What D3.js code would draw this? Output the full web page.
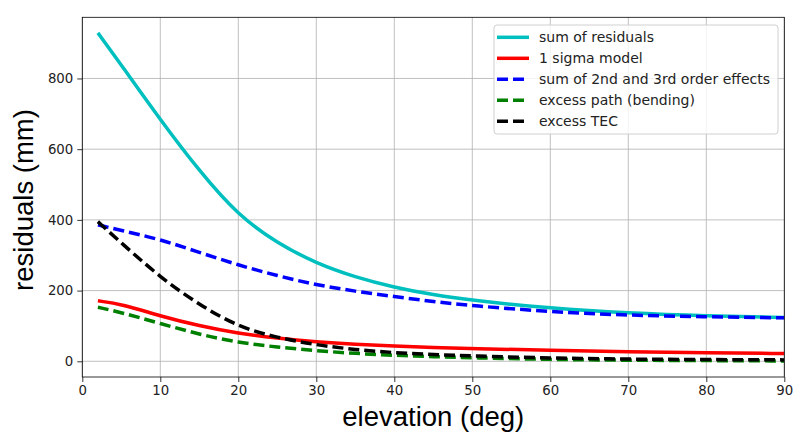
<!DOCTYPE html>
<html>
<head>
<meta charset="utf-8">
<script src="https://cdn.jsdelivr.net/npm/d3@7"></script>
<style>
  html, body { margin: 0; padding: 0; background: #fff; }
  svg { display: block; }
</style>
</head>
<body>
<svg id="chart" width="793" height="432"></svg>
<script>
// ---- data ----
const elevation = [2, 5, 10, 15, 20, 25, 30, 35, 40, 45, 50, 60, 70, 80, 90];
const sumResiduals = [929, 838, 683, 538, 412, 334, 277, 238, 209, 188, 172, 150, 136, 128, 124];
const sigmaModel   = [171, 162, 128, 100, 79, 65, 55, 48, 43, 39, 36, 31, 27, 24, 22];
const sum2nd3rd    = [386, 370, 345, 308, 272, 242, 216, 198, 183, 169, 157, 140, 130, 126, 123];
const excessPath   = [153, 138, 107, 76, 53, 40, 30, 22, 17, 13, 10, 5, 3, 2, 1];
const excessTEC    = [395, 335, 237, 160, 97, 67, 46, 33, 24, 19, 15, 9, 6, 5, 4];
const xTicks = [0, 10, 20, 30, 40, 50, 60, 70, 80, 90];
const yTicks = [0, 200, 400, 600, 800];
const seriesNames = ["sum of residuals", "1 sigma model", "sum of 2nd and 3rd order effects", "excess path (bending)", "excess TEC"];

const series = [
  { name: seriesNames[0], values: sumResiduals, color: "#00bfbf", dash: null },
  { name: seriesNames[1], values: sigmaModel,   color: "#ff0000", dash: null },
  { name: seriesNames[2], values: sum2nd3rd,    color: "#0000ff", dash: "11,5" },
  { name: seriesNames[3], values: excessPath,   color: "#008000", dash: "11,5" },
  { name: seriesNames[4], values: excessTEC,    color: "#000000", dash: "11,5" }
];

const svg = d3.select("#chart");
const L = 82.3, T = 17.3, R = 784.3, B = 377;
const x = d3.scaleLinear().domain([0, 90]).range([L, R]);
const y = d3.scaleLinear().domain([-44.4, 973]).range([B, T]);

// grid
const g = svg.append("g");
g.selectAll(".vg").data(xTicks).join("line")
  .attr("x1", d => x(d)).attr("x2", d => x(d)).attr("y1", T).attr("y2", B)
  .attr("stroke", "#b0b0b0").attr("stroke-width", 0.8);
g.selectAll(".hg").data(yTicks).join("line")
  .attr("x1", L).attr("x2", R).attr("y1", d => y(d)).attr("y2", d => y(d))
  .attr("stroke", "#b0b0b0").attr("stroke-width", 0.8);

// lines
svg.append("clipPath").attr("id", "clip").append("rect")
  .attr("x", L).attr("y", T).attr("width", R - L).attr("height", B - T);
const line = d3.line().x((d, i) => x(elevation[i])).y(d => y(d)).curve(d3.curveBasis);
svg.append("g").attr("clip-path", "url(#clip)").selectAll("path").data(series).join("path")
  .attr("d", s => line(s.values))
  .attr("fill", "none")
  .attr("stroke", s => s.color)
  .attr("stroke-width", 3.5)
  .attr("stroke-dasharray", s => s.dash)
  .attr("stroke-linecap", "butt");

// axes
const xAxis = d3.axisBottom(x).tickValues(xTicks).tickSize(5).tickPadding(4).tickSizeOuter(0);
const yAxis = d3.axisLeft(y).tickValues(yTicks).tickSize(5).tickPadding(4).tickSizeOuter(0);
const gx = svg.append("g").attr("transform", `translate(0,${B})`).call(xAxis);
const gy = svg.append("g").attr("transform", `translate(${L},0)`).call(yAxis);
[gx, gy].forEach(a => {
  a.select(".domain").remove();
  a.selectAll(".tick line").attr("stroke", "#000").attr("stroke-width", 0.8);
  a.selectAll(".tick text").attr("fill", "#222").style("font-family", "'DejaVu Sans'").style("font-size", "13.3px");
});

// frame
svg.append("rect").attr("x", L).attr("y", T).attr("width", R - L).attr("height", B - T)
  .attr("fill", "none").attr("stroke", "#000").attr("stroke-width", 0.8);

// axis labels
svg.append("text").attr("x", (L + R) / 2).attr("y", 425.5).attr("text-anchor", "middle")
  .style("font-family", "'Liberation Sans', Arial, sans-serif").style("font-size", "27.5px").attr("fill", "#000")
  .text("elevation (deg)");
svg.append("text").attr("transform", "translate(33,200) rotate(-90)").attr("text-anchor", "middle")
  .style("font-family", "'Liberation Sans', Arial, sans-serif").style("font-size", "27.5px").attr("fill", "#000")
  .text("residuals (mm)");

// legend
const lg = svg.append("g");
lg.append("rect").attr("x", 494).attr("y", 25).attr("width", 284).attr("height", 109)
  .attr("rx", 3).attr("fill", "#fff").attr("fill-opacity", 0.8).attr("stroke", "#d0d0d0").attr("stroke-width", 1);
const rows = lg.selectAll(".row").data(series).join("g")
  .attr("transform", (d, i) => `translate(0,${37.3 + i * 21})`);
rows.append("line").attr("x1", 497).attr("x2", 529).attr("y1", 0).attr("y2", 0)
  .attr("stroke", d => d.color).attr("stroke-width", 3.5).attr("stroke-dasharray", d => d.dash);
rows.append("text").attr("x", 539).attr("y", 0).attr("dy", "0.35em")
  .style("font-family", "'DejaVu Sans'").style("font-size", "14px").attr("fill", "#222")
  .text(d => d.name);
</script>
</body>
</html>
